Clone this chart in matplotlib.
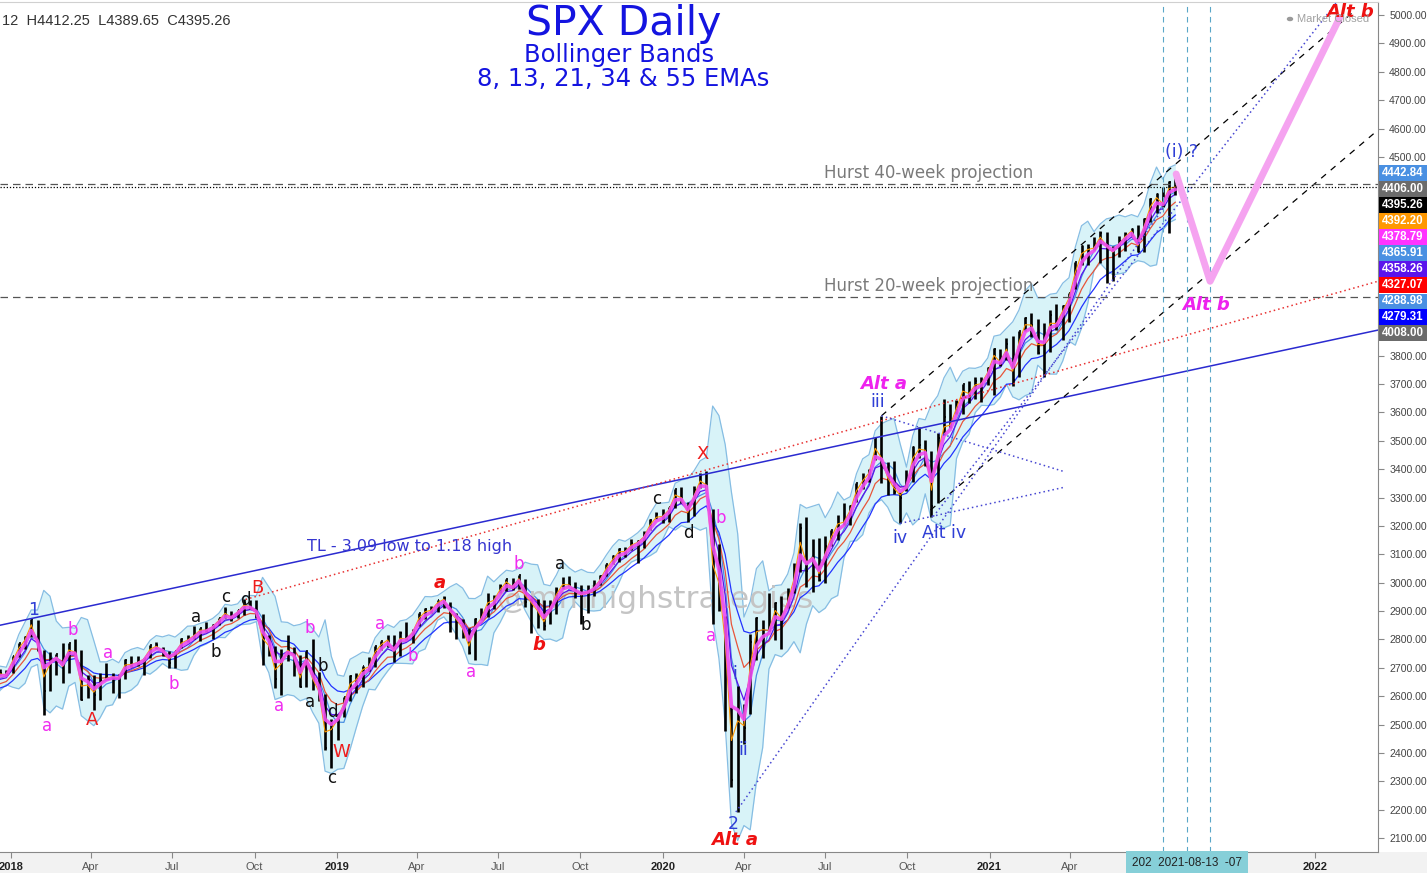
import numpy as np
import pandas as pd
import matplotlib
matplotlib.use('Agg')
import matplotlib.pyplot as plt
from matplotlib.patches import Rectangle, Circle

# ---------------- data (weekly bars, week ending Friday) ----------------
start_week = '2017-11-03'
high_2017 = [2588, 2597, 2590, 2605, 2658, 2665, 2679, 2695, 2692]
low_2017 = [2566, 2566, 2557, 2576, 2605, 2624, 2645, 2673, 2673]
close_2017 = [2588, 2582, 2579, 2602, 2642, 2652, 2676, 2683, 2674]

high_2018 = [2743, 2787, 2811, 2873, 2870, 2763, 2755, 2747, 2789, 2787, 2802, 2761, 2675,
             2673, 2680, 2717, 2683, 2677, 2732, 2742, 2742, 2736, 2780, 2791, 2774, 2760,
             2760, 2804, 2816, 2848, 2841, 2863, 2855, 2877, 2916, 2900, 2904, 2941, 2940,
             2940, 2890, 2816, 2778, 2767, 2815, 2775, 2746, 2760, 2800, 2685, 2607, 2520]
low_2018 = [2683, 2737, 2768, 2808, 2759, 2533, 2619, 2675, 2647, 2681, 2743, 2585, 2594,
            2553, 2586, 2660, 2612, 2594, 2660, 2702, 2707, 2676, 2736, 2765, 2743, 2699,
            2698, 2770, 2791, 2802, 2795, 2825, 2802, 2850, 2877, 2864, 2874, 2886, 2906,
            2874, 2710, 2740, 2628, 2603, 2723, 2671, 2631, 2631, 2621, 2583, 2409, 2347]
close_2018 = [2743, 2786, 2810, 2873, 2762, 2620, 2732, 2747, 2691, 2786, 2752, 2588, 2641,
              2604, 2656, 2670, 2670, 2663, 2728, 2713, 2721, 2735, 2779, 2780, 2755, 2718,
              2760, 2801, 2802, 2819, 2840, 2833, 2850, 2875, 2902, 2872, 2904, 2930, 2914,
              2886, 2767, 2768, 2659, 2723, 2781, 2736, 2633, 2760, 2633, 2600, 2417, 2486]

high_2019 = [2539, 2598, 2675, 2681, 2708, 2738, 2776, 2794, 2817, 2816, 2830, 2860, 2836,
             2894, 2910, 2917, 2940, 2954, 2931, 2893, 2871, 2840, 2874, 2910, 2964, 2956,
             2996, 3014, 3018, 3028, 3014, 2945, 2944, 2939, 2940, 2985, 3021, 3022, 3002,
             2993, 2993, 3008, 3027, 3067, 3097, 3121, 3127, 3155, 3150, 3182, 3225, 3248]
low_2019 = [2444, 2525, 2582, 2612, 2631, 2687, 2703, 2764, 2775, 2722, 2742, 2799, 2786,
            2848, 2873, 2893, 2897, 2911, 2825, 2801, 2805, 2750, 2729, 2868, 2879, 2906,
            2964, 2969, 2975, 2977, 2914, 2822, 2840, 2834, 2853, 2891, 2979, 2990, 2946,
            2856, 2892, 2952, 2992, 3023, 3066, 3074, 3091, 3115, 3070, 3123, 3184, 3223]
close_2019 = [2532, 2596, 2671, 2665, 2707, 2708, 2776, 2793, 2804, 2743, 2822, 2801, 2834,
              2893, 2907, 2905, 2940, 2946, 2881, 2860, 2826, 2752, 2873, 2887, 2950, 2942,
              2990, 3014, 2977, 3026, 2932, 2919, 2889, 2847, 2926, 2979, 3007, 2992, 2962,
              2952, 2970, 2986, 3023, 3067, 3093, 3120, 3110, 3141, 3146, 3169, 3221, 3241]

high_2020 = [3259, 3268, 3330, 3338, 3285, 3341, 3385, 3394, 3260, 3136, 2882, 2562, 2637,
             2571, 2819, 2880, 2870, 2965, 2932, 2954, 2981, 3068, 3211, 3233, 3155, 3156,
             3165, 3187, 3238, 3280, 3272, 3352, 3387, 3399, 3509, 3588, 3425, 3429, 3320,
             3397, 3482, 3549, 3502, 3465, 3529, 3646, 3628, 3644, 3699, 3712, 3726, 3723, 3760]
low_2020 = [3212, 3214, 3263, 3280, 3214, 3235, 3332, 3328, 2855, 2901, 2478, 2281, 2192,
            2431, 2538, 2729, 2736, 2830, 2798, 2767, 2909, 2963, 3038, 2984, 2966, 3005,
            2999, 3129, 3152, 3202, 3204, 3284, 3329, 3355, 3432, 3350, 3310, 3313, 3209,
            3323, 3354, 3440, 3412, 3233, 3279, 3519, 3545, 3594, 3595, 3633, 3648, 3636, 3695]
close_2020 = [3235, 3265, 3330, 3295, 3226, 3328, 3380, 3338, 2954, 2972, 2711, 2305, 2541,
              2489, 2790, 2875, 2837, 2831, 2930, 2864, 2955, 3044, 3194, 3041, 3098, 3009,
              3130, 3185, 3225, 3216, 3271, 3351, 3373, 3397, 3508, 3427, 3341, 3319, 3298,
              3348, 3477, 3484, 3465, 3270, 3510, 3585, 3558, 3638, 3699, 3663, 3709, 3703, 3756]

high_2021 = [3826, 3823, 3861, 3870, 3887, 3937, 3950, 3928, 3915, 3960, 3983, 3978,
             4020, 4130, 4191, 4195, 4218, 4238, 4236, 4188, 4220, 4234, 4249, 4262, 4286,
             4355, 4372, 4393, 4415, 4430]
low_2021 = [3663, 3764, 3784, 3694, 3725, 3885, 3865, 3805, 3723, 3814, 3892, 3854,
            3917, 4034, 4119, 4118, 4172, 4127, 4057, 4062, 4146, 4168, 4220, 4165, 4165,
            4271, 4304, 4322, 4233, 4367]
close_2021 = [3825, 3768, 3841, 3714, 3887, 3934, 3907, 3811, 3842, 3943, 3913, 3975,
              4020, 4129, 4185, 4180, 4181, 4233, 4174, 4156, 4204, 4230, 4247, 4166, 4281,
              4352, 4370, 4327, 4412, 4395]

last_bar_hlc = [4412.25, 4389.65, 4395.26]

# right-axis price tags (value, colour)
tag_values = [4442.84, 4406.00, 4395.26, 4392.20, 4378.79, 4365.91, 4358.26, 4327.07,
              4288.98, 4279.31, 4008.00]
tag_colors = ['#4a90e2', '#6b6b6b', '#000000', '#ff9800', '#ff33ff', '#4a90e2', '#5a14ec',
              '#ff0000', '#4a90e2', '#0000ff', '#6b6b6b']

hurst_levels = [4406.00, 4008.00]
hurst_names = ['Hurst 40-week projection', 'Hurst 20-week projection']
last_close = 4395.26

# trend lines: (dates, prices)
tl_dates, tl_prices = ['2017-12-20', '2022-03-12'], [2850, 3890]
red_dates, red_prices = ['2018-09-21', '2022-03-12'], [2941, 4062]
chan_up_dates, chan_up_prices = ['2020-09-02', '2022-02-15'], [3588, 5018]
chan_lo_dates, chan_lo_prices = ['2020-10-27', '2022-03-12'], [3256, 4595]
dotA_dates, dotA_prices = ['2020-03-23', '2021-07-17'], [2192, 4330]
dotB_dates, dotB_prices = ['2020-10-30', '2022-01-25'], [3233, 5046]
tri_up_dates, tri_up_prices = ['2020-09-02', '2021-03-27'], [3588, 3390]
tri_lo_dates, tri_lo_prices = ['2020-09-23', '2021-03-27'], [3209, 3337]

proj_dates = ['2021-07-29', '2021-09-05', '2022-01-28']
proj_prices = [4440, 4062, 4990]

vline_dates = ['2021-07-14', '2021-08-10', '2021-09-05']
vline_names = ['2021-07-14', '2021-08-13', '2021-09-07']

# wave labels: text, date, price, style
wave_labels = [
    ('1', '2018-01-27', 2903, 'b'), ('a', '2018-02-11', 2495, 'm'), ('b', '2018-03-12', 2833, 'm'),
    ('A', '2018-04-02', 2516, 'r'), ('a', '2018-04-20', 2752, 'm'), ('b', '2018-07-02', 2643, 'm'),
    ('a', '2018-07-27', 2879, 'k'), ('c', '2018-08-30', 2949, 'k'), ('b', '2018-08-19', 2755, 'k'),
    ('d', '2018-09-21', 2939, 'k'), ('B', '2018-10-04', 2981, 'r'), ('b', '2018-12-02', 2840, 'm'),
    ('a', '2018-10-29', 2565, 'm'), ('b', '2018-12-16', 2706, 'k'), ('a', '2018-12-02', 2579, 'k'),
    ('d', '2018-12-27', 2544, 'k'), ('W', '2019-01-06', 2403, 'r'), ('c', '2018-12-26', 2311, 'k'),
    ('a', '2019-02-19', 2854, 'm'), ('b', '2019-03-27', 2741, 'm'), ('a', '2019-04-26', 2999, 'R'),
    ('a', '2019-06-01', 2685, 'm'), ('b', '2019-07-24', 3066, 'm'), ('b', '2019-08-15', 2780, 'R'),
    ('a', '2019-09-08', 3066, 'k'), ('b', '2019-10-07', 2851, 'k'), ('c', '2019-12-25', 3295, 'k'),
    ('d', '2020-01-30', 3175, 'k'), ('X', '2020-02-15', 3453, 'r'), ('b', '2020-03-06', 3228, 'm'),
    ('a', '2020-02-24', 2812, 'm'), ('i', '2020-03-22', 2678, 'b'), ('ii', '2020-03-31', 2410, 'b'),
    ('2', '2020-03-20', 2149, 'b'), ('Alt a', '2020-03-22', 2093, 'R'),
    ('Alt a', '2020-09-04', 3700, 'M'), ('iii', '2020-08-29', 3636, 'b'),
    ('iv', '2020-09-23', 3157, 'b'), ('Alt iv', '2020-11-11', 3175, 'b'),
    ('(i) ?', '2021-08-04', 4517, 'b'), ('Alt b', '2021-09-01', 3978, 'M'),
    ('Alt b', '2022-02-09', 5011, 'R'),
]

# ---------------- derived series ----------------
highs = np.array(high_2017 + high_2018 + high_2019 + high_2020 + high_2021, float)
lows = np.array(low_2017 + low_2018 + low_2019 + low_2020 + low_2021, float)
closes = np.array(close_2017 + close_2018 + close_2019 + close_2020 + close_2021, float)
week_end = pd.date_range(start_week, periods=len(closes), freq='W-FRI')
mid = week_end - pd.Timedelta(days=2)

cs = pd.Series(closes)
rng2 = pd.Series((highs - lows) ** 2)
basis = cs.rolling(4).mean()
var = cs.rolling(4).var(ddof=0) + rng2.rolling(4).mean() / 9.0
sd = np.sqrt(var)
upper, lower = basis + 2 * sd, basis - 2 * sd


def ema(days):
    a = 1 - (1 - 2.0 / (days + 1)) ** 5
    return cs.ewm(alpha=a, adjust=False).mean()

ema8, ema13, ema21, ema34, ema55 = ema(8), ema(13), ema(21), ema(34), ema(55)

# ---------------- figure ----------------
W, H = 1427, 873
fig = plt.figure(figsize=(W / 100, H / 100), dpi=100)
fig.patch.set_facecolor('white')
fig.add_artist(Rectangle((0, 0), 1, 21 / H, transform=fig.transFigure,
                         facecolor='#f2f2f2', edgecolor='none', zorder=0))
ax = fig.add_axes([0, 21 / H, 1378 / W, 850 / H])
ax.set_facecolor('white')

D = pd.to_datetime

# Bollinger band
ok = ~upper.isna()
ax.fill_between(mid[ok], lower[ok], upper[ok], color='#d8f3f8', lw=0, zorder=1)
ax.plot(mid[ok], upper[ok], color='#86bde3', lw=0.9, zorder=2)
ax.plot(mid[ok], lower[ok], color='#86bde3', lw=0.9, zorder=2)
ax.plot(mid[ok], basis[ok], color='#4a90e2', lw=0.9, zorder=2)

# watermark
ax.text(D('2019-12-24'), 2939, '@mmhighstrategies', fontsize=22.5, color='#c4c4c4',
        ha='center', va='center', zorder=2.2)

# EMAs
ax.plot(mid, ema55, color='#2233ff', lw=0.9, zorder=2.5)
ax.plot(mid, ema34, color='#e8553a', lw=0.9, zorder=2.5)
ax.plot(mid, ema21, color='#5a14ec', lw=0.9, zorder=2.5)

# price bars
ax.vlines(mid, lows, highs, color='black', lw=1.9, zorder=3)
ax.hlines(closes, mid, mid + pd.Timedelta(days=2), color='black', lw=1.2, zorder=3)

ax.plot(mid, ema13, color='#f04cf0', lw=2.6, alpha=0.9, zorder=3.5)
ax.plot(mid, ema8, color='#ff9800', lw=0.8, zorder=3.4)

# trend lines
ax.plot(D(tl_dates), tl_prices, color='#2a2ad0', lw=1.1, zorder=4)
ax.plot(D(red_dates), red_prices, color='#e83030', lw=1.1, ls=(0, (1, 2)), zorder=4)
for dd, pp in [(chan_up_dates, chan_up_prices), (chan_lo_dates, chan_lo_prices)]:
    ax.plot(D(dd), pp, color='black', lw=0.9, ls=(0, (5, 5)), zorder=4)
for dd, pp in [(dotA_dates, dotA_prices), (dotB_dates, dotB_prices),
               (tri_up_dates, tri_up_prices), (tri_lo_dates, tri_lo_prices)]:
    ax.plot(D(dd), pp, color='#4646d2', lw=1.1, ls=(0, (1, 2)), zorder=4)

# horizontal levels
for lvl, name in zip(hurst_levels, hurst_names):
    ax.axhline(lvl, color='#555555', lw=0.9, ls=(0, (6, 4)), zorder=4)
    ax.text(D('2020-06-30'), lvl + 5, name, fontsize=12, color='#7a7a7a',
            ha='left', va='bottom', zorder=5)
ax.axhline(last_close, color='black', lw=0.9, ls=(0, (1, 1.5)), zorder=4)

# vertical date lines
for d in vline_dates:
    ax.axvline(D(d), color='#5aa6c8', lw=0.8, ls=(0, (5, 4)), zorder=4)

# projection
ax.plot(D(proj_dates), proj_prices, color='#f5a3f0', lw=5, zorder=4.5,
        solid_capstyle='round', solid_joinstyle='round')

# wave labels
styles = {
    'm': dict(color='#f02cf0', fontsize=12),
    'r': dict(color='#ee1c1c', fontsize=13),
    'k': dict(color='#111111', fontsize=12),
    'b': dict(color='#2f3fd6', fontsize=12.5),
    'R': dict(color='#ee1111', fontsize=13, fontweight='bold', style='italic'),
    'M': dict(color='#ee22ee', fontsize=13, fontweight='bold', style='italic'),
}
for txt, d, p, s in wave_labels:
    ax.text(D(d), p, txt, ha='center', va='center', zorder=6, **styles[s])

ax.text(D('2019-03-24'), 3129, 'TL - 3.09 low to 1.18 high', fontsize=11.5, color='#3535d0',
        ha='center', va='center', zorder=6)

# axes limits / ticks
ax.set_xlim(D('2017-12-20'), D('2022-03-12'))
ax.set_ylim(2051, 5046)
ax.yaxis.tick_right()
yt = np.arange(2100, 5001, 100)
ax.set_yticks(yt)
# ticks hidden behind the stacked price tags are left blank
ax.set_yticklabels(['' if 3850 < v < 4470 else f'{v:.2f}' for v in yt], fontsize=7.6,
                   color='#444444', fontfamily='Liberation Sans')
ax.tick_params(axis='y', length=4, color='#888888', pad=4)

xt = pd.date_range('2018-01-01', '2022-01-01', freq='QS')
ax.set_xticks(xt)
# the Jul/Oct 2021 tick labels are covered by the date tag
hidden = [pd.Timestamp('2021-07-01'), pd.Timestamp('2021-10-01')]
xl = ['' if t in hidden else (str(t.year) if t.month == 1 else t.strftime('%b')) for t in xt]
ax.set_xticklabels(xl)
for lab, t in zip(ax.get_xticklabels(), xt):
    lab.set_fontsize(8)
    lab.set_fontfamily('Liberation Sans')
    lab.set_color('#222222' if t.month == 1 else '#555555')
    if t.month == 1:
        lab.set_fontweight('bold')
ax.tick_params(axis='x', length=4, color='#888888', pad=3)

ax.spines['left'].set_visible(False)
ax.spines['top'].set_color('#d0d0d0')
ax.spines['right'].set_color('#888888')
ax.spines['bottom'].set_color('#888888')

# date tag under the axis (three overlapping tags -> the middle one on top)
tag_text = f'{vline_names[0][:3]}  {vline_names[1]}  {vline_names[2][-3:]}'
ax.text(D(vline_dates[1]), -0.0125, tag_text, transform=ax.get_xaxis_transform(),
        ha='center', va='center', fontsize=8.5, color='#222222',
        fontfamily='Liberation Sans', zorder=10, clip_on=False,
        bbox=dict(boxstyle='square,pad=0.5', fc='#86cfd8', ec='none'))

# right-side price tags
box_top = 165
for i, (v, c) in enumerate(zip(tag_values, tag_colors)):
    y0 = box_top + 16 * i
    fig.add_artist(Rectangle((1379 / W, 1 - (y0 + 16) / H), 48 / W, 15.5 / H,
                             transform=fig.transFigure, facecolor=c, edgecolor='none', zorder=20))
    fig.text(1403 / W, 1 - (y0 + 8) / H, f'{v:.2f}', ha='center', va='center', fontsize=8.3,
             color='white', fontfamily='Liberation Sans', fontweight='bold', zorder=21)

# titles
fig.text(624 / W, 1 - 35 / H, 'SPX Daily', fontsize=29.5, color='#1414e0', ha='center',
         va='baseline')
fig.text(619 / W, 1 - 62 / H, 'Bollinger Bands', fontsize=17.5, color='#1414e0', ha='center',
         va='baseline')
fig.text(623 / W, 1 - 86 / H, '8, 13, 21, 34 & 55 EMAs', fontsize=17.5, color='#1414e0',
         ha='center', va='baseline')

# header
hh, ll, cc = last_bar_hlc
fig.text(2 / W, 1 - 21 / H, f'12  H{hh:.2f}  L{ll:.2f}  C{cc:.2f}', fontsize=10.5,
         color='#333333', ha='left', va='center', fontfamily='Liberation Sans')

# market closed
fig.add_artist(Circle((1290 / W, 1 - 19 / H), 2.5 / W, transform=fig.transFigure,
                      color='#9a9a9a', zorder=20))
fig.text(1297 / W, 1 - 19 / H, 'Market Closed', fontsize=8, color='#a0a0a0',
         ha='left', va='center', fontfamily='Liberation Sans')

fig.savefig('out.png', dpi=100)
